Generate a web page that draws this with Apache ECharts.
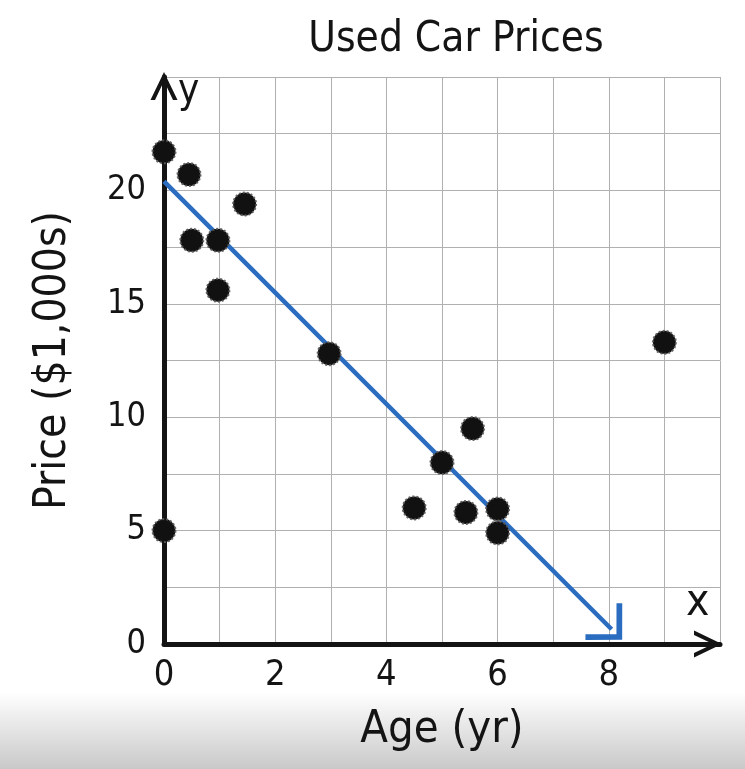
<!DOCTYPE html>
<html>
<head>
<meta charset="utf-8">
<title>Used Car Prices</title>
<script src="https://cdn.jsdelivr.net/npm/echarts@6/dist/echarts.min.js"></script>
<style>
	html, body { margin: 0; padding: 0; background: #ffffff; }
	#chart { width: 745px; height: 769px; }
</style>
</head>
<body>
<div id="chart"></div>
<script>
// Data
const ages = [0, 0.45, 1.45, 0.5, 0.97, 0.97, 2.97, 9.0, 5.55, 5.0, 4.5, 5.43, 6.0, 6.0, 0];
const prices = [21.7, 20.7, 19.4, 17.8, 17.8, 15.6, 12.8, 13.3, 9.5, 8.0, 6.0, 5.8, 5.95, 4.9, 5.0];

// Trend line, start and end (end is the middle of the arrow head)
const trendX = [0, 8.05];
const trendY = [20.4, 0.65];

const xTicks = [0, 2, 4, 6, 8];
const yTicks = [0, 5, 10, 15, 20];

const fontFamily = "'Liberation Sans Narrow', 'DejaVu Sans Condensed', sans-serif";
const ink = '#141414';

// open chevrons, pointing up
const chevron = 'path://M0,0 L13.5,28 L9,28 L0,9 L-9,28 L-13.5,28 Z';
const blueChevron = 'path://M0,0 L16,16 L13.5,18.5 L0,5 L-13.5,18.5 L-16,16 Z';

let points = [];
for (let i = 0; i < ages.length; i++) {
	points.push([ages[i], prices[i]]);
};

const chart = echarts.init(document.getElementById('chart'));

chart.setOption({
	animation: false,
	backgroundColor: '#ffffff',
	title: {
		text: 'Used Car Prices',
		left: 451,
		top: 14,
		textAlign: 'center',
		textStyle: { fontFamily: fontFamily, fontSize: 42, fontWeight: 'normal', color: ink }
	},
	graphic: [
		{
			type: 'rect',
			left: 0,
			top: 692,
			z: -10,
			silent: true,
			shape: { width: 745, height: 77 },
			style: {
				fill: new echarts.graphic.LinearGradient(0, 0, 0, 1, [
					{ offset: 0, color: '#ffffff' },
					{ offset: 1, color: '#c9c9c9' }
				])
			}
		},
		{
			type: 'text',
			left: 178,
			top: 72,
			style: { text: 'y', font: '40px ' + fontFamily, fill: ink }
		},
		{
			type: 'text',
			left: 686,
			top: 582,
			style: { text: 'x', font: '44px ' + fontFamily, fill: ink }
		}
	],
	grid: { left: 164, right: 25, top: 77, bottom: 125 },
	xAxis: {
		type: 'value',
		min: 0,
		max: 10,
		interval: 2,
		name: 'Age (yr)',
		nameLocation: 'middle',
		nameGap: 64,
		nameTextStyle: { fontFamily: fontFamily, fontSize: 45, color: ink },
		axisLine: {
			lineStyle: { color: ink, width: 5 },
			symbol: ['none', chevron],
			symbolSize: [27, 28],
			symbolOffset: [0, -12]
		},
		axisTick: { show: false },
		axisLabel: {
			fontFamily: fontFamily, fontSize: 36, color: ink, margin: 14,
			formatter: function (v) { return xTicks.includes(v) ? String(v) : ''; }
		},
		splitLine: { lineStyle: { color: '#b0b0b0', width: 1 } },
		minorTick: { show: false, splitNumber: 2 },
		minorSplitLine: { show: true, lineStyle: { color: '#b0b0b0', width: 1 } }
	},
	yAxis: {
		type: 'value',
		min: 0,
		max: 25,
		interval: 5,
		name: 'Price ($1,000s)',
		nameLocation: 'middle',
		nameRotate: 90,
		nameGap: 88,
		nameTextStyle: { fontFamily: fontFamily, fontSize: 44, color: ink },
		axisLine: {
			lineStyle: { color: ink, width: 5 },
			symbol: ['none', chevron],
			symbolSize: [27, 28],
			symbolOffset: [0, -9]
		},
		axisTick: { show: false },
		axisLabel: {
			fontFamily: fontFamily, fontSize: 34, color: ink, margin: 18,
			formatter: function (v) { return yTicks.includes(v) ? String(v) : ''; }
		},
		splitLine: { lineStyle: { color: '#b0b0b0', width: 1 } },
		minorTick: { show: false, splitNumber: 2 },
		minorSplitLine: { show: true, lineStyle: { color: '#b0b0b0', width: 1 } }
	},
	series: [
		{
			type: 'line',
			z: 3,
			symbol: 'none',
			silent: true,
			lineStyle: { width: 0, opacity: 0 },
			data: [],
			markLine: {
				silent: true,
				symbol: ['none', blueChevron],
				symbolSize: [52, 30],
				label: { show: false },
				lineStyle: { color: '#2a6cc0', width: 4.5, type: 'solid', opacity: 1 },
				data: [[
					{ coord: [trendX[0], trendY[0]] },
					{ coord: [trendX[1], trendY[1]] }
				]]
			}
		},
		{
			type: 'scatter',
			z: 5,
			symbolSize: 23,
			itemStyle: {
				color: '#111111',
				borderColor: 'rgba(90,90,90,0.9)',
				borderWidth: 2,
				borderType: 'dotted',
				opacity: 1
			},
			data: points
		}
	]
});
</script>
</body>
</html>
